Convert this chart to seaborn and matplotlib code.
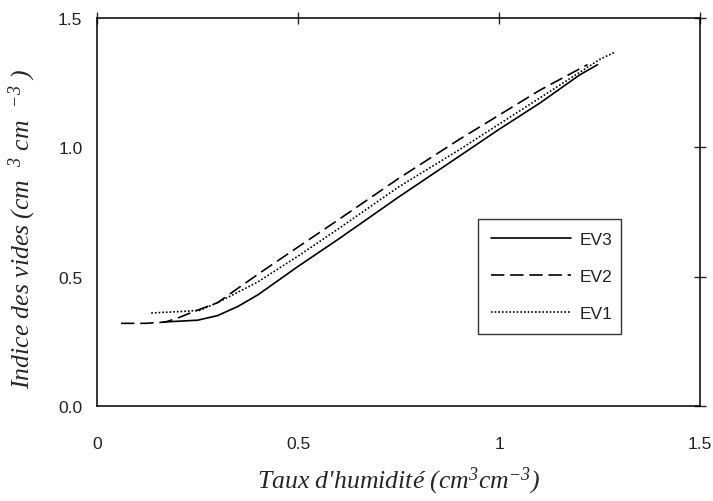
import matplotlib
matplotlib.use("Agg")
import matplotlib.pyplot as plt
import seaborn as sns
import pandas as pd
import numpy as np

# ---- data ----
ev3_x = [0.165, 0.20, 0.25, 0.30, 0.35, 0.40, 0.45, 0.50, 0.60, 0.75, 0.90, 1.00, 1.10, 1.20, 1.245]
ev3_y = [0.325, 0.328, 0.332, 0.350, 0.385, 0.430, 0.485, 0.540, 0.645, 0.808, 0.965, 1.070, 1.170, 1.280, 1.320]

ev2_x = [0.06, 0.12, 0.17, 0.20, 0.24, 0.30, 0.35, 0.41, 0.50, 0.60, 0.75, 0.90, 1.00, 1.10, 1.15, 1.22]
ev2_y = [0.320, 0.320, 0.325, 0.340, 0.365, 0.400, 0.455, 0.520, 0.615, 0.720, 0.880, 1.030, 1.125, 1.220, 1.262, 1.320]

ev1_x = [0.135, 0.20, 0.255, 0.30, 0.40, 0.50, 0.60, 0.75, 0.90, 1.00, 1.10, 1.20, 1.25, 1.29]
ev1_y = [0.360, 0.365, 0.370, 0.400, 0.480, 0.580, 0.685, 0.847, 0.990, 1.090, 1.190, 1.290, 1.340, 1.370]

series_names = ["EV3", "EV2", "EV1"]
x_ticks = [0, 0.5, 1, 1.5]
x_tick_labels = ["0", "0.5", "1", "1.5"]
y_ticks = [0.0, 0.5, 1.0, 1.5]
y_tick_labels = ["0.0", "0.5", "1.0", "1.5"]

df = pd.concat([
    pd.DataFrame({"x": ev3_x, "y": ev3_y, "serie": "EV3"}),
    pd.DataFrame({"x": ev2_x, "y": ev2_y, "serie": "EV2"}),
    pd.DataFrame({"x": ev1_x, "y": ev1_y, "serie": "EV1"}),
], ignore_index=True)

sns.set_style("white")
plt.rcParams["font.family"] = ["Liberation Sans", "DejaVu Sans"]
plt.rcParams["mathtext.fontset"] = "custom"
plt.rcParams["mathtext.rm"] = "Liberation Serif:italic"
plt.rcParams["mathtext.it"] = "Liberation Serif:italic"

fig = plt.figure(figsize=(7.13, 5.02), dpi=100)
ax = fig.add_axes([0.136, 0.189, 0.846, 0.773])

styles = {
    "EV3": dict(linestyle="-", linewidth=1.2),
    "EV2": dict(linestyle=(0, (8, 3.5)), linewidth=1.2),
    "EV1": dict(linestyle=(0, (1, 1.2)), linewidth=1.2),
}
for name in series_names:
    sub = df[df["serie"] == name]
    sns.lineplot(data=sub, x="x", y="y", ax=ax, sort=False, estimator=None,
                 color="black", label=name, **styles[name])

ax.set_xlim(0, 1.5)
ax.set_ylim(0, 1.5)
ax.set_xticks(x_ticks)
ax.set_xticklabels(x_tick_labels)
ax.set_yticks(y_ticks)
ax.set_yticklabels(y_tick_labels)
ax.tick_params(axis="both", direction="inout", length=9, width=1, labelsize=12.5,
               top=True, right=True, labelcolor="#222222")
ax.tick_params(axis="x", pad=17)
ax.tick_params(axis="y", pad=6)
for s in ax.spines.values():
    s.set_color("black")
    s.set_linewidth(1.1)

ax.set_xlabel(r"Taux d'humidité (cm$^{3}$cm$^{-3}$)", fontfamily="Liberation Serif",
              fontstyle="italic", fontsize=18.5, labelpad=10)
ax.set_ylabel(r"Indice des vides (cm  $^{3}$ cm  $^{-3}$ )", fontfamily="Liberation Serif",
              fontstyle="italic", fontsize=18.5)
ax.yaxis.set_label_coords(-0.097, 0.46)

leg = ax.legend(loc="upper left", bbox_to_anchor=(0.632, 0.482, 0.236, 0.0),
                mode="expand", frameon=True, fancybox=False, edgecolor="black",
                fontsize=12.5, handlelength=4.6, handletextpad=0.5,
                labelspacing=1.25, borderpad=0.75, borderaxespad=0.0)
leg.get_frame().set_linewidth(1.0)
for t in leg.get_texts():
    t.set_color("#222222")

fig.savefig("out.png", dpi=100)
